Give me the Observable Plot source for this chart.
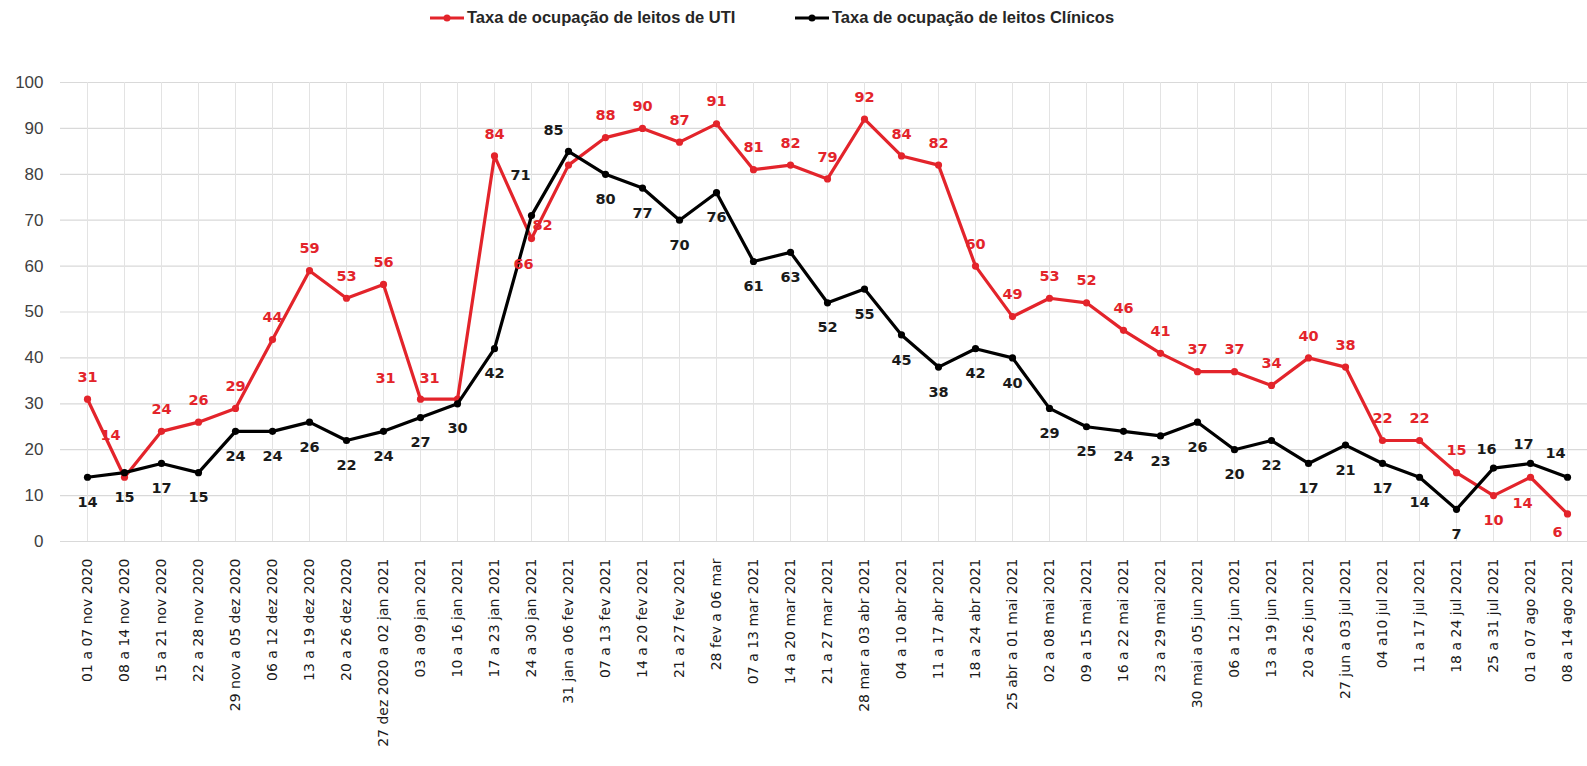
<!DOCTYPE html>
<html><head><meta charset="utf-8">
<script src="https://cdn.jsdelivr.net/npm/d3@7"></script>
<script src="https://cdn.jsdelivr.net/npm/@observablehq/plot@0.6"></script>
<style>
body{margin:0;background:#fff;}
#legend{position:relative;width:1587px;height:40px;font-family:"Liberation Sans",Arial,sans-serif;font-weight:bold;font-size:16.5px;color:#262626;}
.item{position:absolute;top:8px;display:flex;align-items:center;white-space:nowrap;}
.item svg{margin-right:3px;}
</style></head><body>
<div id="legend"></div><div id="chart"></div>
<script>
const categories = [
  "01 a 07 nov 2020","08 a 14 nov 2020","15 a 21 nov 2020","22 a 28 nov 2020",
  "29 nov a 05 dez 2020","06 a 12 dez 2020","13 a 19 dez 2020","20 a 26 dez 2020",
  "27 dez 2020 a 02 jan 2021","03 a 09 jan 2021","10 a 16 jan 2021","17 a 23 jan 2021",
  "24 a 30 jan 2021","31 jan a 06 fev 2021","07 a 13 fev 2021","14 a 20 fev 2021",
  "21 a 27 fev 2021","28 fev a 06 mar","07 a 13 mar 2021","14 a 20 mar 2021",
  "21 a 27 mar 2021","28 mar a 03 abr 2021","04 a 10 abr 2021","11 a 17 abr 2021",
  "18 a 24 abr 2021","25 abr a 01 mai 2021","02 a 08 mai 2021","09 a 15 mai 2021",
  "16 a 22 mai 2021","23 a 29 mai 2021","30 mai a 05 jun 2021","06 a 12 jun 2021",
  "13 a 19 jun 2021","20 a 26 jun 2021","27 jun a 03 jul 2021","04 a10 jul 2021",
  "11 a 17 jul 2021","18 a 24 jul 2021","25 a 31 jul 2021","01 a 07 ago 2021",
  "08 a 14 ago 2021"
];
const utiValues = [31,14,24,26,29,44,59,53,56,31,31,84,66,82,88,90,87,91,81,82,79,92,84,82,60,49,53,52,46,41,37,37,34,40,38,22,22,15,10,14,6];
const clinicosValues = [14,15,17,15,24,24,26,22,24,27,30,42,71,85,80,77,70,76,61,63,52,55,45,38,42,40,29,25,24,23,26,20,22,17,21,17,14,7,16,17,14];
const seriesNames = ["Taxa de ocupação de leitos de UTI","Taxa de ocupação de leitos Clínicos"];
const seriesColors = ["#e3242b","#000000"];
const labelColors = ["#e3242b","#1a1a1a"];
const yTicks = [0,10,20,30,40,50,60,70,80,90,100];
// label placement codes (where each value label sits relative to its point)
const utiLabelPlace = ["t","ul","t","t","t","t","t","t","t","l1","l2","t","bl","lb","t","t","t","t","t","t","t","t","t","t","t","t","t","t","t","t","t","t","t","t","t","t","t","t","b","bl","bl2"];
const clinLabelPlace = ["b","b","b","b","b","b","b","b","b","b","b","b","tl","tl2","b","b","b","b","b","b","b","b","b","b","b","b","b","b","b","b","b","b","b","b","b","b","b","b","tl3","tl3","tl4"];
const offsets = {
  t:[0,-22], b:[0,25], ul:[-14,-42], l1:[-35,-21], l2:[-28,-21], bl:[-8,26], lb:[-26,60], bl2:[-10,18],
  tl:[-11,-40], tl2:[-15,-21], tl3:[-7,-19], tl4:[-12,-24]
};

const rows = [];
[utiValues, clinicosValues].forEach((vals, s) => {
  vals.forEach((v, i) => rows.push({cat: categories[i], v, s, serie: seriesNames[s],
    place: (s === 0 ? utiLabelPlace : clinLabelPlace)[i]}));
});

// legend
const legend = document.getElementById("legend");
const legendLeft = [430, 795];
seriesNames.forEach((name, s) => {
  const it = document.createElement("div");
  it.className = "item";
  it.style.left = legendLeft[s] + "px";
  it.innerHTML = `<svg width="34" height="10"><line x1="0" x2="34" y1="5" y2="5" stroke="${seriesColors[s]}" stroke-width="3"/><circle cx="17" cy="5" r="3.5" fill="${seriesColors[s]}"/></svg><span>${name}</span>`;
  legend.appendChild(it);
});

const textMarks = [];
for (const s of [0, 1]) {
  for (const code of Object.keys(offsets)) {
    const sub = rows.filter(d => d.s === s && d.place === code);
    if (!sub.length) continue;
    textMarks.push(Plot.text(sub, {x: "cat", y: "v", text: d => String(d.v), dx: offsets[code][0], dy: offsets[code][1],
      fill: labelColors[s], fontWeight: "bold", fontSize: 14.5, fontFamily: "DejaVu Sans"}));
  }
}

const seriesMarks = [];
for (const s of [0, 1]) {
  const sub = rows.filter(d => d.s === s);
  seriesMarks.push(Plot.line(sub, {x: "cat", y: "v", stroke: seriesColors[s], strokeWidth: 3.2}));
  seriesMarks.push(Plot.dot(sub, {x: "cat", y: "v", fill: seriesColors[s], r: 3.6}));
}

const chart = Plot.plot({
  width: 1587, height: 726,
  marginTop: 42, marginBottom: 225, marginLeft: 60, marginRight: 0,
  style: {fontFamily: "DejaVu Sans", background: "#fff", overflow: "visible"},
  x: {type: "point", domain: categories, range: [79, 1575], padding: 0},
  y: {domain: [0, 100]},
  marks: [
    Plot.ruleY(yTicks, {stroke: "#d9d9d9", strokeWidth: 1.2}),
    Plot.ruleX(categories, {y1: 0, y2: 100, stroke: "#e3e3e3"}),
    Plot.axisY(yTicks, {tickSize: 0, tickPadding: 17, fontSize: 17, fill: "#404040", label: null, fontFamily: "Liberation Sans"}),
    Plot.axisX({tickSize: 0, tickRotate: -90, tickPadding: 17, fontSize: 14, label: null, fill: "#1a1a1a"}),
    ...seriesMarks,
    ...textMarks
  ]
});
document.getElementById("chart").appendChild(chart);
</script>
</body></html>
